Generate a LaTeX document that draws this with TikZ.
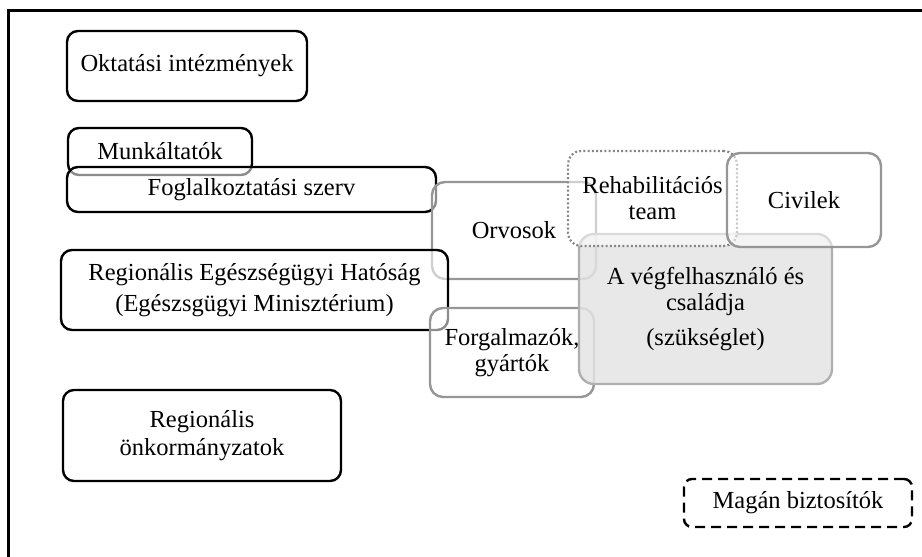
\documentclass[tikz,border=0pt]{standalone}
\usepackage{fontspec}
\setmainfont{Liberation Serif}
\begin{document}
\begin{tikzpicture}[x=1pt,y=-1pt,
  base/.style={rounded corners=11pt, line width=2.4pt, align=center,
    inner sep=0pt, fill=white, fill opacity=0.55, text opacity=1,
    font=\fontsize{24.5}{26}\selectfont},
  blackbox/.style={base, draw=black},
  graybox/.style={base, draw=linegray, rounded corners=13pt},
  dotbox/.style={base, draw=dotgray, rounded corners=13pt, line width=2.2pt,
    dash pattern=on 2pt off 2.2pt},
  needbox/.style={base, draw=needline, fill=needfill, fill opacity=0.85,
    rounded corners=15pt},
  dashbox/.style={base, draw=black, rounded corners=8pt,
    dash pattern=on 10pt off 6pt}
]
\definecolor{linegray}{RGB}{150,150,150}
\definecolor{dotgray}{RGB}{135,135,135}
\definecolor{needline}{RGB}{175,175,175}
\definecolor{needfill}{RGB}{228,228,228}

\useasboundingbox (0,0) rectangle (922,557);
% outer frame (only top and left edges fall inside the page)
\draw[line width=2.2pt] (8.5,557) -- (8.5,10.5) -- (922,10.5);

\node[blackbox, minimum width=240, minimum height=70] (okt) at (187,66)
  {Oktatási intézmények};
\node[blackbox, minimum width=184, minimum height=47] (munk) at (160,151.5)
  {Munkáltatók};
\node[blackbox, minimum width=369, minimum height=45] (fogl) at (251.5,189.5)
  {Foglalkoztatási szerv};
\node[graybox, minimum width=164, minimum height=97] (orv) at (514,230.5)
  {Orvosok};
\node[blackbox, minimum width=387, minimum height=80] (reg) at (254.5,290)
  {Regionális Egészségügyi Hatóság\\[5pt](Egészsgügyi Minisztérium)};
\node[graybox, minimum width=164, minimum height=89] (forg) at (512,352.5)
  {Forgalmazók,\\gyártók};
\node[needbox, minimum width=253, minimum height=150] (veg) at (705.5,309)
  {A végfelhasználó és\\családja\\[9pt](szükséglet)};
\node[dotbox, minimum width=169, minimum height=95] (rehab) at (652.5,198.5)
  {Rehabilitációs\\team};
\node[graybox, minimum width=154, minimum height=94] (civ) at (804,200)
  {Civilek};
\node[blackbox, minimum width=278, minimum height=91] (onk) at (202,435.5)
  {Regionális\\[2pt]önkormányzatok};
\node[dashbox, minimum width=228, minimum height=48] (mag) at (798,503)
  {Magán biztosítók};
\end{tikzpicture}
\end{document}
